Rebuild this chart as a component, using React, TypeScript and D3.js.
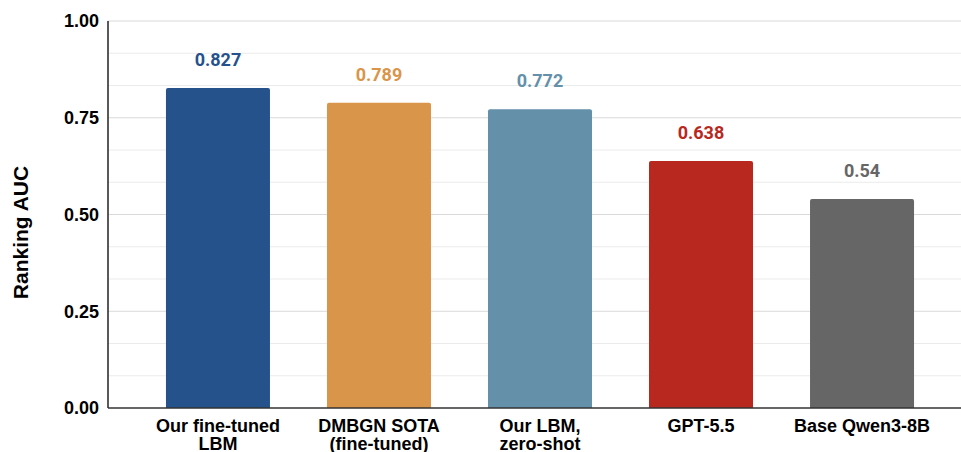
import React, { useEffect, useRef } from 'react';
import * as d3 from 'd3';

const categories = ['Our fine-tuned\nLBM', 'DMBGN SOTA\n(fine-tuned)', 'Our LBM,\nzero-shot', 'GPT-5.5', 'Base Qwen3-8B'];
const values = [0.827, 0.789, 0.772, 0.638, 0.54];
const valueLabels = ['0.827', '0.789', '0.772', '0.638', '0.54'];
const colors = ['#26528c', '#d9954a', '#6490aa', '#b8281e', '#666666'];
const yTicks = [0, 0.25, 0.5, 0.75, 1];
const yTickLabels = ['0.00', '0.25', '0.50', '0.75', '1.00'];

const W = 961;
const H = 452;

const App: React.FC = () => {
  const svgRef = useRef<SVGSVGElement>(null);

  useEffect(() => {
    if (!svgRef.current) return;
    const svg = d3.select(svgRef.current);
    svg.selectAll('*').remove();

    const left = 108, right = 972, top = 21, bottom = 408;

    const x = d3.scaleBand<string>()
      .domain(categories)
      .range([left, right])
      .paddingInner(0.354)
      .paddingOuter(0.36);
    const y = d3.scaleLinear().domain([0, 1]).range([bottom, top]);

    // gridlines: minor every 1/12, major at ticks
    const minor = d3.range(1, 12).map(i => i / 12).filter(v => Math.abs(v * 4 - Math.round(v * 4)) > 1e-6);
    svg.append('g').selectAll('line').data(minor).enter().append('line')
      .attr('x1', left).attr('x2', W)
      .attr('y1', d => y(d)).attr('y2', d => y(d))
      .attr('stroke', '#ebebeb').attr('stroke-width', 1.2);
    svg.append('g').selectAll('line').data(yTicks.filter(v => v > 0)).enter().append('line')
      .attr('x1', left).attr('x2', W)
      .attr('y1', d => y(d)).attr('y2', d => y(d))
      .attr('stroke', '#d9d9d9').attr('stroke-width', 1.2);

    // bars with slightly rounded tops
    const r = 2;
    svg.append('g').selectAll('path').data(values).enter().append('path')
      .attr('fill', (_, i) => colors[i])
      .attr('d', (d, i) => {
        const x0 = x(categories[i])!;
        const x1 = x0 + x.bandwidth();
        const yt = y(d);
        return `M${x0},${bottom}V${yt + r}Q${x0},${yt} ${x0 + r},${yt}H${x1 - r}Q${x1},${yt} ${x1},${yt + r}V${bottom}Z`;
      });

    // value labels
    svg.append('g').selectAll('text').data(values).enter().append('text')
      .attr('x', (_, i) => x(categories[i])! + x.bandwidth() / 2)
      .attr('y', d => y(d) - 22)
      .attr('text-anchor', 'middle')
      .attr('font-family', 'Roboto, sans-serif')
      .attr('font-weight', 700)
      .attr('font-size', 18)
      .attr('fill', (_, i) => colors[i])
      .text((_, i) => valueLabels[i]);

    // axes lines
    svg.append('line')
      .attr('x1', left).attr('x2', left).attr('y1', top).attr('y2', bottom)
      .attr('stroke', '#222').attr('stroke-width', 1.5);
    svg.append('line')
      .attr('x1', left).attr('x2', W).attr('y1', bottom).attr('y2', bottom)
      .attr('stroke', '#333').attr('stroke-width', 1.5);

    // y tick labels
    svg.append('g').selectAll('text').data(yTicks).enter().append('text')
      .attr('x', left - 9)
      .attr('y', d => y(d))
      .attr('dy', '0.35em')
      .attr('text-anchor', 'end')
      .attr('font-family', '"Liberation Sans", Arial, sans-serif')
      .attr('font-weight', 700)
      .attr('font-size', 18)
      .attr('fill', '#000')
      .text((_, i) => yTickLabels[i]);

    // category labels
    const cat = svg.append('g').selectAll('text').data(categories).enter().append('text')
      .attr('x', d => x(d)! + x.bandwidth() / 2)
      .attr('y', 432)
      .attr('text-anchor', 'middle')
      .attr('font-family', '"Liberation Sans", Arial, sans-serif')
      .attr('font-weight', 700)
      .attr('font-size', 18)
      .attr('fill', '#000');
    cat.each(function (d) {
      const t = d3.select(this);
      d.split('\n').forEach((line, k) => {
        t.append('tspan')
          .attr('x', x(d)! + x.bandwidth() / 2)
          .attr('dy', k === 0 ? 0 : 18)
          .text(line);
      });
    });

    // y axis title
    svg.append('text')
      .attr('transform', `translate(28,${(top + bottom) / 2 + 18}) rotate(-90)`)
      .attr('text-anchor', 'middle')
      .attr('font-family', '"Liberation Sans", Arial, sans-serif')
      .attr('font-weight', 700)
      .attr('font-size', 21)
      .attr('fill', '#000')
      .text('Ranking AUC');
  }, []);

  return (
    <div style={{ position: 'absolute', left: 0, top: 0, background: '#fff' }}>
      <svg ref={svgRef} width={W} height={H} style={{ display: 'block' }} />
    </div>
  );
};

export default App;
